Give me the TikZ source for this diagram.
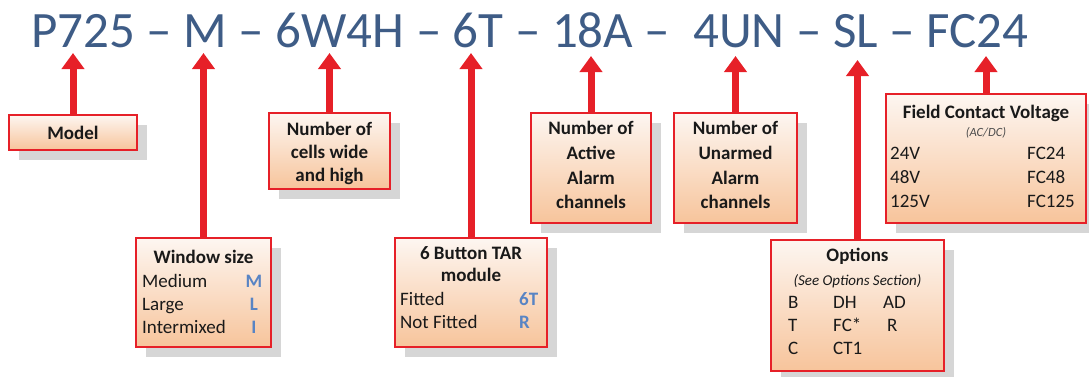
\documentclass[tikz,border=0pt]{standalone}
\usepackage{fontspec}
\setmainfont{Carlito}
\usetikzlibrary{arrows.meta}
\definecolor{titleblue}{RGB}{62,92,134}
\definecolor{codeblue}{RGB}{88,132,196}
\definecolor{bred}{RGB}{230,32,40}
\definecolor{btop}{RGB}{253,246,241}
\definecolor{bbot}{RGB}{247,196,155}
\definecolor{shad}{RGB}{214,214,214}
\definecolor{ink}{RGB}{25,25,25}
\newcommand\infobox[5]{% name, x, y, w, h
  \fill[shad] (#2+10,#3+10) rectangle ++(#4,#5);
  \node[infobox, minimum width=#4pt, minimum height=#5pt] (#1) at (#2,#3) {};}
\begin{document}
\begin{tikzpicture}[x=1pt,y=-1pt,
  infobox/.style={draw=bred, line width=2.5pt, top color=btop, bottom color=bbot,
    anchor=north west, inner sep=0pt, outer sep=0pt},
  conn/.style={draw=bred, line width=7pt, -{Triangle[width=22pt,length=16pt]}},
  btxt/.style={font=\fontsize{19}{23}\selectfont\bfseries, inner sep=0pt, text=ink, anchor=base},
  rtxt/.style={font=\fontsize{19}{23}\selectfont, inner sep=0pt, text=ink, anchor=base west},
  ctxt/.style={font=\fontsize{19}{23}\selectfont\bfseries, inner sep=0pt, text=codeblue},
  itxt/.style={font=\fontsize{15}{18}\selectfont\itshape, inner sep=0pt, text=ink, anchor=base},
]
\useasboundingbox (0,0) rectangle (1089,376);

% title
\node[anchor=base west, font=\fontsize{51}{60}\selectfont, text=titleblue, inner sep=0pt]
  (title) at (31,47) {P725 – M – 6W4H – 6T – 18A – \ 4UN – SL – FC24};

% boxes
\infobox{model}{9}{115}{128}{35}
\infobox{cells}{269}{113}{121}{76}
\infobox{window}{136}{238}{135}{109}
\infobox{sixbtn}{395}{238}{152}{109}
\infobox{active}{531}{113}{120}{110}
\infobox{unarmed}{674}{113}{123}{110}
\infobox{options}{771}{240}{173}{131}
\infobox{fc}{886}{94}{200}{129}

% arrow tips
\coordinate (pModel) at (model.north |- 0,53);
\coordinate (pWin) at (window.north |- 0,53);
\coordinate (pCells) at (cells.north |- 0,53);
\coordinate (pSix) at (sixbtn.north |- 0,53);
\coordinate (pAct) at (active.north |- 0,56);
\coordinate (pUn) at (unarmed.north |- 0,56);
\coordinate (pOpt) at (options.north |- 0,60);
\coordinate (pFC) at (fc.north |- 0,56);
\foreach \b/\p in {model/pModel, window/pWin, cells/pCells, sixbtn/pSix,
                   active/pAct, unarmed/pUn, options/pOpt, fc/pFC}
  \draw[conn] (\b.north) -- (\p);

% Model
\node[btxt] (tModel) at (model.center |- 0,139) {Model};
% cells
\node[btxt] (tC1) at (cells.center |- 0,135.5) {Number of};
\node[btxt] (tC2) at (cells.center |- 0,158.5) {cells wide};
\node[btxt] (tC3) at (cells.center |- 0,181) {and high};
% active
\node[btxt] (tA1) at (active.center |- 0,134.5) {Number of};
\node[btxt] (tA2) at (active.center |- 0,159.5) {Active};
\node[btxt] (tA3) at (active.center |- 0,184) {Alarm};
\node[btxt] (tA4) at (active.center |- 0,208.5) {channels};
% unarmed
\node[btxt] (tU1) at (unarmed.center |- 0,134.5) {Number of};
\node[btxt] (tU2) at (unarmed.center |- 0,159.5) {Unarmed};
\node[btxt] (tU3) at (unarmed.center |- 0,184) {Alarm};
\node[btxt] (tU4) at (unarmed.center |- 0,208.5) {channels};
% field contact
\node[btxt] (tF1) at (fc.center |- 0,118.5) {Field Contact Voltage};
\node[itxt, font=\fontsize{12.5}{15}\selectfont\itshape, text=black!70] (tF2) at (fc.center |- 0,136) {(AC/DC)};
\node[rtxt] (tF3) at (890,159.5) {24V};
\node[rtxt] (tF4) at (890,183.5) {48V};
\node[rtxt] (tF5) at (890,207.5) {125V};
\node[rtxt] (tF6) at (1027,159.5) {FC24};
\node[rtxt] (tF7) at (1027,183.5) {FC48};
\node[rtxt] (tF8) at (1027,207.5) {FC125};
% window
\node[btxt] (tW1) at (window.center |- 0,263.5) {Window size};
\node[rtxt] (tW2) at (142,287.5) {Medium};
\node[rtxt] (tW3) at (142,310.5) {Large};
\node[rtxt] (tW4) at (142,333.5) {Intermixed};
\node[ctxt, anchor=base] (tW5) at (254,287.5) {M};
\node[ctxt, anchor=base] (tW6) at (254,310.5) {L};
\node[ctxt, anchor=base] (tW7) at (254,333.5) {I};
% six button
\node[btxt] (tS1) at (sixbtn.center |- 0,259.5) {6 Button TAR};
\node[btxt] (tS2) at (sixbtn.center |- 0,281.5) {module};
\node[rtxt] (tS3) at (400,305.5) {Fitted};
\node[rtxt] (tS4) at (400,328.5) {Not Fitted};
\node[ctxt, anchor=base west] (tS5) at (519,305.5) {6T};
\node[ctxt, anchor=base west] (tS6) at (519,328.5) {R};
% options
\node[btxt] (tO1) at (options.center |- 0,261.5) {Options};
\node[itxt] (tO2) at (options.center |- 0,285) {(See Options Section)};
\node[rtxt] (tO3) at (788,308.5) {B};
\node[rtxt] (tO4) at (833,308.5) {DH};
\node[rtxt] (tO5) at (883,308.5) {AD};
\node[rtxt] (tO6) at (788,331.5) {T};
\node[rtxt] (tO7) at (833,331.5) {FC*};
\node[rtxt] (tO8) at (887,331.5) {R};
\node[rtxt] (tO9) at (788,354.5) {C};
\node[rtxt] (tO10) at (833,354.5) {CT1};
\end{tikzpicture}
\end{document}
